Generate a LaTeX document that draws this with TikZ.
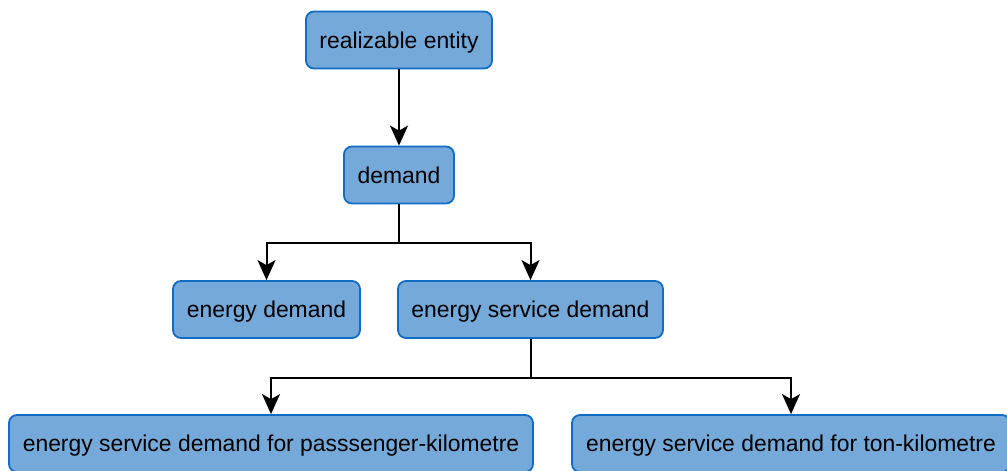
\documentclass[tikz,border=0pt]{standalone}
\usepackage{fontspec}
\setmainfont{Liberation Sans}
\usetikzlibrary{arrows.meta}
\definecolor{boxfill}{RGB}{117,169,218}
\definecolor{boxline}{RGB}{18,108,196}
\tikzset{
  box/.style={draw=boxline, fill=boxfill, line width=1.8pt, rounded corners=8pt,
    minimum height=57pt, inner sep=0pt, text height=16pt, text depth=0pt,
    font=\fontsize{22.9}{27}\selectfont, text=black},
  link/.style={draw=black, line width=2pt,
    -{Stealth[length=20pt,width=18pt,inset=5pt]}}
}
\begin{document}
\begin{tikzpicture}[x=1pt,y=-1pt]
  \useasboundingbox (0,0) rectangle (1007,471);
  \node[box, minimum width=186pt] (re)  at (399,40)    {realizable entity};
  \node[box, minimum width=110pt] (dm)  at (399,175)   {demand};
  \node[box, minimum width=187pt] (ed)  at (266.5,309.5) {energy demand};
  \node[box, minimum width=265pt] (esd) at (530.5,309.5) {energy service demand};
  \node[box, minimum width=524pt] (pk)  at (271,443.5) {energy service demand for passsenger-kilometre};
  \node[box, minimum width=438pt] (tk)  at (791,443.5) {energy service demand for ton-kilometre};

  \draw[link] (re.south) -- (dm.north);
  \draw[link] (dm.south) -- ++(0,39) -| (ed.north);
  \draw[link] (dm.south) -- ++(0,39) -| (esd.north);
  \draw[link] (esd.south) -- ++(0,39) -| (pk.north);
  \draw[link] (esd.south) -- ++(0,39) -| (tk.north);
\end{tikzpicture}
\end{document}
